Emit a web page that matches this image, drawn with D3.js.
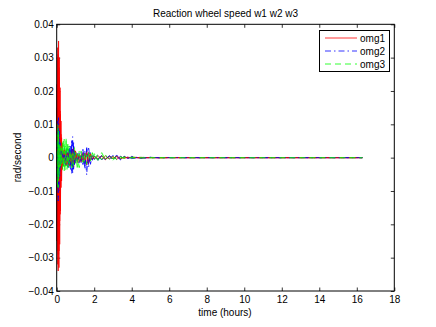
<!DOCTYPE html>
<html>
<head>
<meta charset="utf-8">
<script src="https://cdnjs.cloudflare.com/ajax/libs/d3/7.8.5/d3.min.js"></script>
<style>
body { margin: 0; background: #fff; }
text { font-family: "Liberation Sans", Arial, sans-serif; }
</style>
</head>
<body>
<div id="chart"></div>
<script>

/* time samples (hours), shared by every trace */
var hours = [0, 0.02, 0.04, 0.06, 0.08, 0.10, 0.12, 0.14, 0.16, 0.18,
    0.20, 0.23, 0.26, 0.30, 0.35, 0.40, 0.45, 0.50, 0.55, 0.60,
    0.65, 0.70, 0.75, 0.80, 0.85, 0.90, 0.95, 1.00, 1.10, 1.20,
    1.30, 1.40, 1.50, 1.60, 1.70, 1.80, 1.90, 2.00, 2.20, 2.40,
    2.60, 2.80, 3.00, 3.20, 3.40, 3.60, 3.80, 4.00, 4.50, 5.00,
    5.50, 6.00, 7.00, 8.00, 10.0, 12.0, 14.0, 16.3];

/* wheel speeds in mrad/s, one array per run */
var omg1 = [
  [0, 22, -28, 33, -34, 35, -33, 30, -26, 21,
   -16, 11, -7, 4, -2.5, 1.5, -2.0, 2.5, -1.5, 1.0,
   -2.2, 2.0, -1.0, 1.8, -2.8, 3.0, -2.0, 1.2, -1.5, 1.0,
   -0.8, 1.5, -1.8, 2.0, -1.2, 0.6, -0.4, 0.3, -0.5, 0.6,
   -0.4, 0.3, -0.3, 0.5, -0.3, 0.2, -0.1, 0.15, -0.1, 0.05,
   -0.05, 0.02, 0, 0, 0, 0, 0, 0],
  [0, -25, 30, -32, 31, -29, 27, -24, 20, -17,
   13, -9, 6, -3.5, 2.0, -1.2, 1.8, -2.4, 1.3, -0.8,
   1.9, -2.5, 1.6, -2.2, 2.6, -2.9, 2.2, -1.0, 1.2, -1.4,
   0.9, -1.2, 1.4, -2.2, 1.5, -0.8, 0.5, -0.4, 0.6, -0.5,
   0.5, -0.4, 0.4, -0.5, 0.3, -0.2, 0.15, -0.1, 0.08, -0.05,
   0.03, -0.02, 0, 0, 0, 0, 0, 0],
  [0, 15, -20, 26, -29, 30, -28, 24, -19, 14,
   -10, 7, -4, 2.5, -1.5, 2.2, -1.0, 1.2, -2.0, 1.5,
   -1.0, 1.2, -2.0, 2.4, -1.5, 1.0, -1.6, 2.0, -0.8, 0.6,
   -1.2, 1.0, -0.6, 1.2, -1.8, 1.2, -0.7, 0.4, -0.3, 0.4,
   -0.6, 0.5, -0.2, 0.3, -0.4, 0.2, -0.1, 0.1, -0.05, 0.05,
   -0.03, 0.02, 0, 0, 0, 0, 0, 0]
];

var omg2 = [
  [0, 8, -12, 15, -17, 16, -14, 11, -8, 6,
   -4, 3, -2, 1.5, -2.5, 3.0, -2.0, 1.0, -1.8, 2.5,
   -3.0, 3.5, -4.0, 5.5, -4.5, 3.5, -2.5, 2.0, -1.5, 1.0,
   -1.5, 2.5, -3.5, 3.0, -2.0, 1.0, -0.6, 0.4, -0.8, 0.6,
   -0.5, 0.4, -0.6, 0.8, -0.5, 0.3, -0.2, 0.4, -0.2, 0.1,
   -0.05, 0.03, 0, 0, 0, 0, 0, 0],
  [0, -9, 13, -16, 15, -13, 10, -7, 5, -3,
   2.5, -2, 1.5, -1.0, 2.0, -1.5, 1.0, -2.2, 2.8, -3.2,
   2.5, -2.0, 3.8, -4.8, 6.3, -3.5, 2.0, -1.5, 1.2, -2.0,
   1.8, -2.5, 2.0, -5.2, 3.3, -2.0, 1.0, -0.5, 0.6, -0.7,
   0.6, -0.5, 0.7, -0.6, 0.4, -0.3, 0.3, -0.3, 0.15, -0.1,
   0.05, -0.03, 0, 0, 0, 0, 0, 0],
  [0, 5, -8, 11, -13, 12, -10, 8, -6, 4.5,
   -3, 2, -1.5, 2.0, -1.2, 0.8, -1.5, 1.8, -1.0, 1.5,
   -2.0, 2.8, -2.2, 4.0, -3.0, 4.5, -2.0, 1.0, -0.8, 1.4,
   -1.0, 1.5, -2.5, 2.5, -3.0, 1.5, -0.8, 0.5, -0.4, 0.5,
   -0.7, 0.6, -0.4, 0.5, -0.7, 0.4, -0.2, 0.2, -0.15, 0.08,
   -0.04, 0.02, 0, 0, 0, 0, 0, 0]
];

var omg3 = [
  [0, 12, -14, 13, -11, 9, -7, 6, -5, 6,
   -4, 5, -3.5, 4.5, -3.0, 5.5, -3.8, 6.0, -3.5, 4.0,
   -2.5, 3.0, -2.0, 2.5, -3.0, 2.0, -1.5, 2.5, -3.5, 2.0,
   -1.5, 1.2, -1.8, 1.5, -1.2, 1.8, -1.0, 1.2, -0.8, 1.5,
   -0.6, 0.5, -0.8, 0.4, -0.3, 0.3, -0.2, 0.2, -0.1, 0.06,
   -0.04, 0.02, 0, 0, 0, 0, 0, 0],
  [0, -10, 13, -14, 12, -10, 8, -6, 5, -4,
   5, -3.5, 4.0, -3.5, 5.0, -4.0, 3.5, -2.5, 4.5, -3.0,
   3.5, -2.0, 2.5, -3.5, 2.0, -2.5, 3.0, -2.0, 1.5, -3.0,
   2.0, -1.5, 1.2, -2.0, 1.5, -1.0, 1.5, -0.8, 1.2, -0.6,
   0.8, -0.5, 0.4, -0.6, 0.3, -0.2, 0.2, -0.1, 0.08, -0.05,
   0.03, -0.02, 0, 0, 0, 0, 0, 0],
  [0, 7, -9, 10, -9, 8, -6, 4, -3, 3.5,
   -2.5, 3.0, -2.0, 3.5, -2.5, 2.0, -1.5, 3.0, -2.0, 2.5,
   -1.8, 2.0, -1.2, 1.5, -2.0, 1.0, -0.8, 1.5, -1.2, 1.0,
   -0.8, 0.6, -1.0, 0.8, -0.5, 0.6, -0.4, 0.5, -0.3, 0.6,
   -0.3, 0.2, -0.3, 0.2, -0.1, 0.1, -0.08, 0.05, -0.04, 0.02,
   -0.01, 0.01, 0, 0, 0, 0, 0, 0]
];

var seriesNames = ["omg1", "omg2", "omg3"];
var xTicks = [0, 2, 4, 6, 8, 10, 12, 14, 16, 18];
var yTicks = [-0.04, -0.03, -0.02, -0.01, 0, 0.01, 0.02, 0.03, 0.04];

var styles = [
    {color: "#ff0000", dash: null},
    {color: "#0000ff", dash: "6,3,1.5,3"},
    {color: "#00ff00", dash: "6,4"}
];

var svg = d3.select("#chart")
        .append("svg")
        .attr("width", 436)
        .attr("height", 327);

var x = d3.scaleLinear().domain([0, 18]).range([56.7, 394.3]);
var y = d3.scaleLinear().domain([-0.04, 0.04]).range([291, 24.3]);

var fmt = function(d){ return d === 0 ? "0" : d3.format(".2f")(d); };

/*axes, ticks pointing inward on all four sides*/
svg.append("g")
    .attr("transform", "translate(0,291)")
    .call(d3.axisBottom(x).tickValues(xTicks).tickSizeInner(-3.5).tickSizeOuter(0).tickPadding(5).tickFormat(d3.format("d")));
svg.append("g")
    .attr("transform", "translate(0,24.3)")
    .call(d3.axisTop(x).tickValues(xTicks).tickSizeInner(-3.5).tickSizeOuter(0).tickFormat(""));
svg.append("g")
    .attr("transform", "translate(56.7,0)")
    .call(d3.axisLeft(y).tickValues(yTicks).tickSizeInner(-3.5).tickSizeOuter(0).tickPadding(3).tickFormat(fmt));
svg.append("g")
    .attr("transform", "translate(394.3,0)")
    .call(d3.axisRight(y).tickValues(yTicks).tickSizeInner(-3.5).tickSizeOuter(0).tickFormat(""));

svg.selectAll(".tick text")
    .style("font-size", "10px")
    .style("font-family", "'Liberation Sans', Arial, sans-serif")
    .attr("fill", "#000");
svg.selectAll(".domain").remove();
svg.selectAll(".tick line").attr("stroke", "#000").attr("stroke-width", 0.8);

/*traces, red then blue then green for each run*/
var line = d3.line()
    .x(function(d){ return x(d[0]); })
    .y(function(d){ return y(d[1] / 1000); });

var plot = svg.append("g");
var runs = [omg1, omg2, omg3];
for (var r = 0; r < omg1.length; r++) {
    runs.forEach(function(set, k){
        var pts = hours.map(function(t, i){ return [t, set[r][i]]; });
        plot.append("path")
            .attr("d", line(pts))
            .attr("fill", "none")
            .attr("stroke", styles[k].color)
            .attr("stroke-width", 0.8)
            .attr("stroke-dasharray", styles[k].dash)
            .attr("stroke-linejoin", "round");
    });
}

/*box*/
svg.append("rect")
    .attr("x", 56.7).attr("y", 24.3)
    .attr("width", 337.6).attr("height", 266.7)
    .attr("fill", "none")
    .attr("stroke", "#000")
    .attr("stroke-width", 1);

/*labels*/
svg.append("text")
    .attr("x", 225.5).attr("y", 17)
    .attr("text-anchor", "middle")
    .style("font-size", "10px")
    .text("Reaction wheel speed w1 w2 w3");

svg.append("text")
    .attr("x", 225).attr("y", 316)
    .attr("text-anchor", "middle")
    .style("font-size", "10px")
    .text("time (hours)");

svg.append("text")
    .attr("transform", "translate(21,157.5) rotate(-90)")
    .attr("text-anchor", "middle")
    .style("font-size", "10px")
    .text("rad/second");

/*legend*/
var legend = svg.append("g");
legend.append("rect")
    .attr("x", 319.5).attr("y", 30.5)
    .attr("width", 70).attr("height", 41)
    .attr("fill", "#fff")
    .attr("stroke", "#000")
    .attr("stroke-width", 1);

seriesNames.forEach(function(name, k){
    var ly = 38 + k * 13;
    legend.append("line")
        .attr("x1", 325).attr("x2", 357)
        .attr("y1", ly).attr("y2", ly)
        .attr("stroke", styles[k].color)
        .attr("stroke-width", 0.8)
        .attr("stroke-dasharray", styles[k].dash);
    legend.append("text")
        .attr("x", 360).attr("y", ly + 3.6)
        .style("font-size", "10px")
        .text(name);
});

</script>
</body>
</html>
